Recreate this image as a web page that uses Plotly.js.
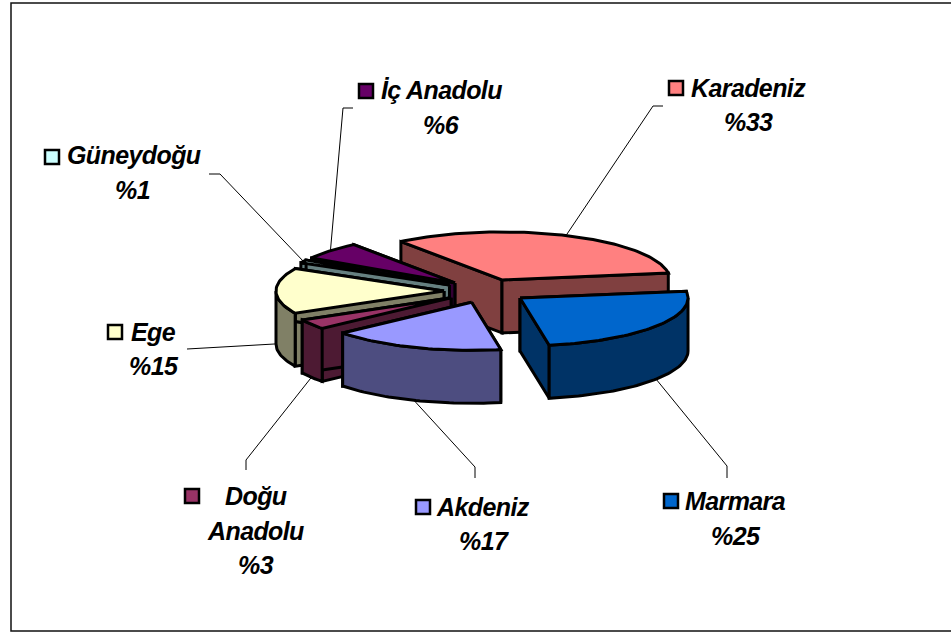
<!DOCTYPE html>
<html><head><meta charset="utf-8">
<script src="https://cdn.plot.ly/plotly-3.0.1.min.js"></script>
<style>html,body{margin:0;padding:0;background:#fff;overflow:hidden}
#c{width:951px;height:633px}
.annotation-text{letter-spacing:-0.6px}</style>
</head><body><div id="c"></div>
<script>
// data
const regions = ['Karadeniz','Marmara','Akdeniz','Doğu Anadolu','Ege','Güneydoğu','İç Anadolu'];
// unrounded shares; the printed labels are these values rounded
const shares  = [33,24.5,16.7,3.4,15.4,1,6];
// styling
const topColors  = ['#FF8080','#0066CC','#9999FF','#993366','#FFFFCC','#CCFFFF','#660066'];
const wallColors = ['#804040','#003366','#4D4D80','#4D1A33','#808066','#668080','#330033'];
// chart geometry
const cx=486, cy=291, rx=168, ry=48, depth=53, pull=0.25, firstAngle=127, strokeW=3;
const drawOrder=[0,6,5,4,3,2,1];
// label layout
const leaderElbowX=[653,727,475,246,187,220,343];
const leaderElbowY=[106,466,467,460,349,174,108];
const leaderEndX  =[663,727,475,246,187,209,353];
const leaderEndY  =[106,478,478,470,349,174,108];
const keyX=[676,671,423,192,115,52,366];
const keyY=[88,501,507,496,332,157,91];
const labelLines=[['Karadeniz'],['Marmara'],['Akdeniz'],['Doğu','Anadolu'],['Ege'],['Güneydoğu'],['İç Anadolu']];
const labelX=[[748,748],[735,736],[483,484],[256,255,256],[153,154],[134,132],[441,441]];
const labelY=[[88,122],[501,536],[507,541],[496,531,565],[332,366],[155,190],[90,125]];

const rad=d=>d*Math.PI/180;
const total=shares.reduce((a,b)=>a+b,0);
let acc=firstAngle;
const slices=shares.map(v=>{const a0=acc, a1=acc-v/total*360; acc=a1;
  const mid=(a0+a1)/2;
  return {a0,a1,mid,ax:cx+pull*rx*Math.cos(rad(mid)),ay:cy-pull*ry*Math.sin(rad(mid))};});
const pt=(s,a,dz=0)=>[s.ax+rx*Math.cos(rad(a)),s.ay-ry*Math.sin(rad(a))+dz];
const arc=(s,a0,a1,dz=0)=>{const n=Math.max(2,Math.ceil(Math.abs(a0-a1)/1.5)),o=[];
  for(let i=0;i<=n;i++)o.push(pt(s,a0+(a1-a0)*i/n,dz));return o;};
const poly=(pts,fill)=>({type:'scatter',mode:'lines',x:[...pts.map(p=>p[0]),pts[0][0]],y:[...pts.map(p=>p[1]),pts[0][1]],
  fill:'toself',fillcolor:fill,line:{color:'#000',width:strokeW,shape:'linear'},hoverinfo:'skip',showlegend:false});

const traces=[];
// leader lines
slices.forEach((s,i)=>{const sn=Math.sin(rad(s.mid));const p=pt(s,s.mid,sn<0.05?depth:0);
  traces.push({type:'scatter',mode:'lines',x:[p[0],leaderElbowX[i],leaderEndX[i]],y:[p[1],leaderElbowY[i],leaderEndY[i]],
    line:{color:'#000',width:1},hoverinfo:'skip',showlegend:false});});
// slices, back to front
drawOrder.forEach(i=>{const s=slices[i],wall=wallColors[i];
  const apex=[s.ax,s.ay],apexB=[s.ax,s.ay+depth];
  [s.a0,s.a1].forEach(a=>traces.push(poly([apex,pt(s,a),pt(s,a,depth),apexB],wall)));
  // outer wall: only the part of the rim facing the viewer (angles 0 to -180)
  const from=Math.min(s.a0,0), to=Math.max(s.a1,-180);
  if(from>to)traces.push(poly([...arc(s,from,to),...arc(s,to,from,depth)],wall));
  traces.push(poly([apex,...arc(s,s.a0,s.a1)],topColors[i]));
});
// legend keys
traces.push({type:'scatter',mode:'markers',x:keyX,y:keyY,text:regions,hoverinfo:'text',showlegend:false,
  marker:{symbol:'square',size:14,color:topColors,line:{color:'#000',width:2.5}}});

const annotations=[];
regions.forEach((r,i)=>{[...labelLines[i],'%'+Math.round(shares[i])].forEach((t,j)=>annotations.push({
  x:labelX[i][j],y:labelY[i][j],xref:'x',yref:'y',text:t,showarrow:false,xanchor:'center',yanchor:'middle',
  font:{family:'"Liberation Sans",Arial,sans-serif',size:25,color:'#000',weight:'bold',style:'italic'}}));});

Plotly.newPlot('c',traces,{width:951,height:633,margin:{l:0,r:0,t:0,b:0},paper_bgcolor:'#fff',plot_bgcolor:'#fff',
  xaxis:{range:[0,951],visible:false,fixedrange:true},yaxis:{range:[633,0],visible:false,fixedrange:true},
  showlegend:false,annotations,
  shapes:[{type:'rect',xref:'x',yref:'y',x0:11,y0:3,x1:975,y1:631,line:{color:'#111',width:1.5},layer:'below'}]
},{displayModeBar:false,staticPlot:true});
</script></body></html>
